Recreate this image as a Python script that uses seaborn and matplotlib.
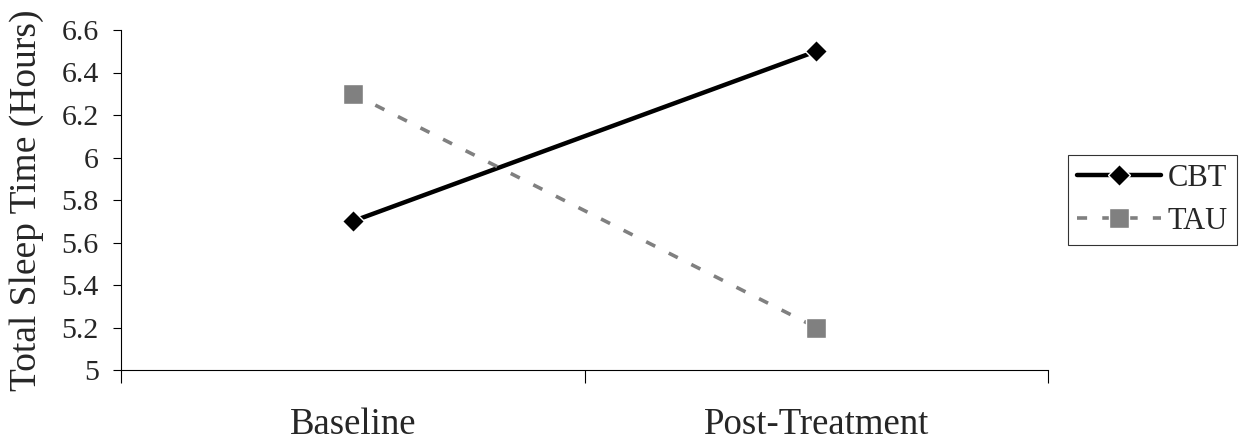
import numpy as np
import pandas as pd
import matplotlib
matplotlib.use("Agg")
import matplotlib.pyplot as plt
from matplotlib.ticker import FixedLocator
import seaborn as sns

# Mean total sleep time per group at each assessment
phases = ["Baseline", "Post-Treatment"]
groups = ["CBT", "TAU"]
cbt_hours = [5.7, 6.5]
tau_hours = [6.3, 5.2]
y_ticks = [5.0, 5.2, 5.4, 5.6, 5.8, 6.0, 6.2, 6.4, 6.6]

df = pd.DataFrame({
    "phase": phases * 2,
    "pos": list(range(len(phases))) * 2,
    "group": [groups[0]] * len(phases) + [groups[1]] * len(phases),
    "hours": cbt_hours + tau_hours,
})

sns.set_style("white")
plt.rcParams["font.family"] = ["Liberation Serif", "DejaVu Serif"]

fig = plt.figure(figsize=(12.46, 4.45), dpi=100)
ax = fig.add_axes([121 / 1246, 75 / 445, (1048 - 121) / 1246, 340 / 445])

sns.lineplot(
    data=df, x="pos", y="hours", hue="group", style="group",
    palette={"CBT": "black", "TAU": "#808080"},
    markers={"CBT": "D", "TAU": "s"},
    dashes={"CBT": "", "TAU": (1.6, 2.2)},
    linewidth=3.2, markersize=11, markeredgewidth=1.0,
    ax=ax, legend=False,
)
for line, grp in zip(ax.lines, groups):
    if grp == "TAU":
        line.set_markersize(14)
        line.set_linewidth(2.6)
        line.set_dashes((2.8, 4.2))
    line.set_label(grp)

ax.set_xlim(-0.5, len(phases) - 0.5)
ax.set_ylim(5.0, 6.6)
ax.yaxis.set_major_locator(FixedLocator(y_ticks))
ax.set_yticklabels([f"{v:g}" for v in y_ticks])
ax.set_xticks(range(len(phases)))
ax.set_xticklabels(phases)
ax.xaxis.set_minor_locator(FixedLocator(np.arange(-0.5, len(phases), 1.0)))

ax.tick_params(axis="y", which="major", direction="out", length=6, width=0.8,
               color="black", labelsize=21.5, pad=10, left=True)
ax.tick_params(axis="x", which="major", length=0, labelsize=26.5, pad=27, bottom=True)
ax.tick_params(axis="x", which="minor", direction="out", length=9, width=0.8,
               color="black", bottom=True)

for side in ["top", "right"]:
    ax.spines[side].set_visible(False)
for side in ["left", "bottom"]:
    ax.spines[side].set_color("black")
    ax.spines[side].set_linewidth(0.8)

ax.set_xlabel("")
ax.set_ylabel("Total Sleep Time (Hours)", fontsize=27)
ax.yaxis.set_label_coords(-0.083, 0.5)

leg = ax.legend(
    handles=ax.lines[:2], labels=groups,
    loc="center left", bbox_to_anchor=(1068 / 1246, 245 / 445),
    bbox_transform=fig.transFigure,
    fontsize=22, frameon=True, fancybox=False, shadow=False,
    handlelength=2.75, handletextpad=0.2, borderpad=0.3, labelspacing=0.45,
    borderaxespad=0.0,
)
leg.get_frame().set_edgecolor("black")
leg.get_frame().set_linewidth(0.8)

fig.savefig("out.png", dpi=100, facecolor="white")
